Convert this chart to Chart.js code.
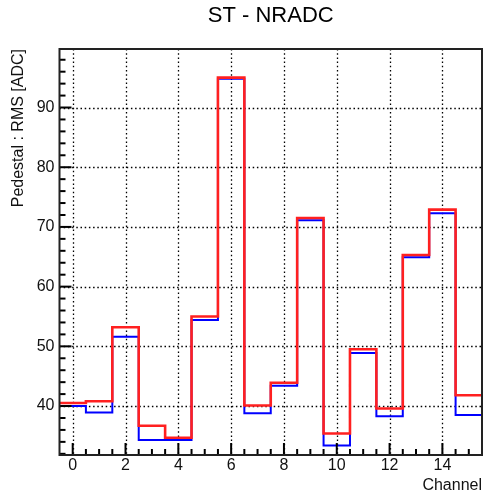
<!DOCTYPE html>
<html>
<head>
<meta charset="utf-8">
<script src="https://cdn.jsdelivr.net/npm/chart.js@4.4.0/dist/chart.umd.min.js"></script>
<style>
  html, body { margin: 0; padding: 0; background: #fff; }
  #wrap { width: 488px; height: 495px; position: relative; }
</style>
</head>
<body>
<div id="wrap"><canvas id="histo"></canvas></div>
<script>
// --- data ---
const channels = [0, 1, 2, 3, 4, 5, 6, 7, 8, 9, 10, 11, 12, 13, 14, 15];
const blueRms = [40.0, 38.9, 51.6, 34.3, 34.3, 54.4, 94.8, 38.8, 43.4, 71.1, 33.4, 48.9, 38.3, 64.9, 72.3, 38.5];
const redRms  = [40.5, 40.8, 53.2, 36.7, 34.7, 55.0, 95.0, 40.1, 43.9, 71.5, 35.4, 49.5, 39.6, 65.3, 72.9, 41.8];
const xTicks = [0, 2, 4, 6, 8, 10, 12, 14];
const yTicks = [40, 50, 60, 70, 80, 90];

const X_MIN = -0.5, X_MAX = 15.5;
const Y_MIN = 31.8, Y_MAX = 99.8;

// histogram outline: each bin is a flat segment from its low edge to its high edge
function histPoints(vals) {
    const pts = [];
    channels.forEach((c, i) => {
        pts.push({ x: c - 0.5, y: vals[i] });
        pts.push({ x: c + 0.5, y: vals[i] });
    });
    return pts;
}

// ROOT-like frame: dotted grid, inward ticks, solid box
const rootFrame = {
    id: 'rootFrame',
    beforeDatasetsDraw(chart) {
        const { ctx, chartArea: a, scales: { x, y } } = chart;
        ctx.save();
        ctx.strokeStyle = '#000';
        ctx.lineWidth = 1.3;
        ctx.setLineDash([1.5, 2.7]);
        xTicks.forEach(v => {
            const px = Math.round(x.getPixelForValue(v)) + 0.5;
            ctx.beginPath(); ctx.moveTo(px, a.top); ctx.lineTo(px, a.bottom); ctx.stroke();
        });
        yTicks.forEach(v => {
            const py = Math.round(y.getPixelForValue(v)) + 0.5;
            ctx.beginPath(); ctx.moveTo(a.left, py); ctx.lineTo(a.right, py); ctx.stroke();
        });
        ctx.restore();
    },
    afterDatasetsDraw(chart) {
        const { ctx, chartArea: a, scales: { x, y } } = chart;
        ctx.save();
        ctx.strokeStyle = '#000';
        ctx.lineWidth = 2;
        // minor + major ticks on x (every 0.5), y (every 2)
        for (let v = 0; v <= 15.01; v += 0.5) {
            const px = x.getPixelForValue(v);
            const len = (v % 2 === 0) ? 12 : 6;
            ctx.beginPath(); ctx.moveTo(px, a.bottom); ctx.lineTo(px, a.bottom - len); ctx.stroke();
        }
        for (let v = 32; v <= 98.01; v += 2) {
            const py = y.getPixelForValue(v);
            const len = (v % 10 === 0) ? 12 : 6;
            ctx.beginPath(); ctx.moveTo(a.left, py); ctx.lineTo(a.left + len, py); ctx.stroke();
        }
        ctx.strokeStyle = '#222';
        ctx.strokeRect(a.left, a.top, a.right - a.left, a.bottom - a.top);
        ctx.restore();
    }
};

Chart.defaults.font.family = "'Liberation Sans', Arial, Helvetica, sans-serif";
Chart.defaults.color = '#000';

new Chart(document.getElementById('histo'), {
    type: 'line',
    data: {
        datasets: [
            { label: 'blue', data: histPoints(blueRms), borderColor: '#0000ff', borderWidth: 2, pointRadius: 0, fill: false, tension: 0, order: 2 },
            { label: 'red', data: histPoints(redRms), borderColor: '#ff2020', borderWidth: 2.6, pointRadius: 0, fill: false, tension: 0, order: 1 }
        ]
    },
    options: {
        responsive: true,
        maintainAspectRatio: false,
        animation: false,
        events: [],
        layout: { padding: { left: 0, right: 6, top: 0, bottom: 0 } },
        plugins: {
            legend: { display: false },
            tooltip: { enabled: false },
            title: {
                display: true,
                text: 'ST - NRADC',
                fullSize: false,
                color: '#000',
                font: { size: 22, weight: 'normal' },
                padding: { top: 3, bottom: 19.6 }
            }
        },
        scales: {
            x: {
                type: 'linear',
                min: X_MIN, max: X_MAX,
                afterBuildTicks: s => { s.ticks = xTicks.map(v => ({ value: v })); },
                afterFit: s => { s.height = 40; },
                grid: { display: false, drawTicks: false },
                border: { display: false },
                ticks: { padding: 1, maxRotation: 0, font: { size: 16 }, color: '#111' },
                title: { display: true, text: 'Channel', align: 'end', font: { size: 16 }, color: '#111', padding: { top: 0, bottom: 0 } }
            },
            y: {
                type: 'linear',
                min: Y_MIN, max: Y_MAX,
                afterBuildTicks: s => { s.ticks = yTicks.map(v => ({ value: v })); },
                afterFit: s => { s.width = 59.5; },
                grid: { display: false, drawTicks: false },
                border: { display: false },
                ticks: { padding: 5, font: { size: 16 }, color: '#111' },
                title: { display: true, text: 'Pedestal : RMS [ADC]', align: 'end', font: { size: 16 }, color: '#111', padding: { top: 9, bottom: 0 } }
            }
        }
    },
    plugins: [rootFrame]
});
</script>
</body>
</html>
